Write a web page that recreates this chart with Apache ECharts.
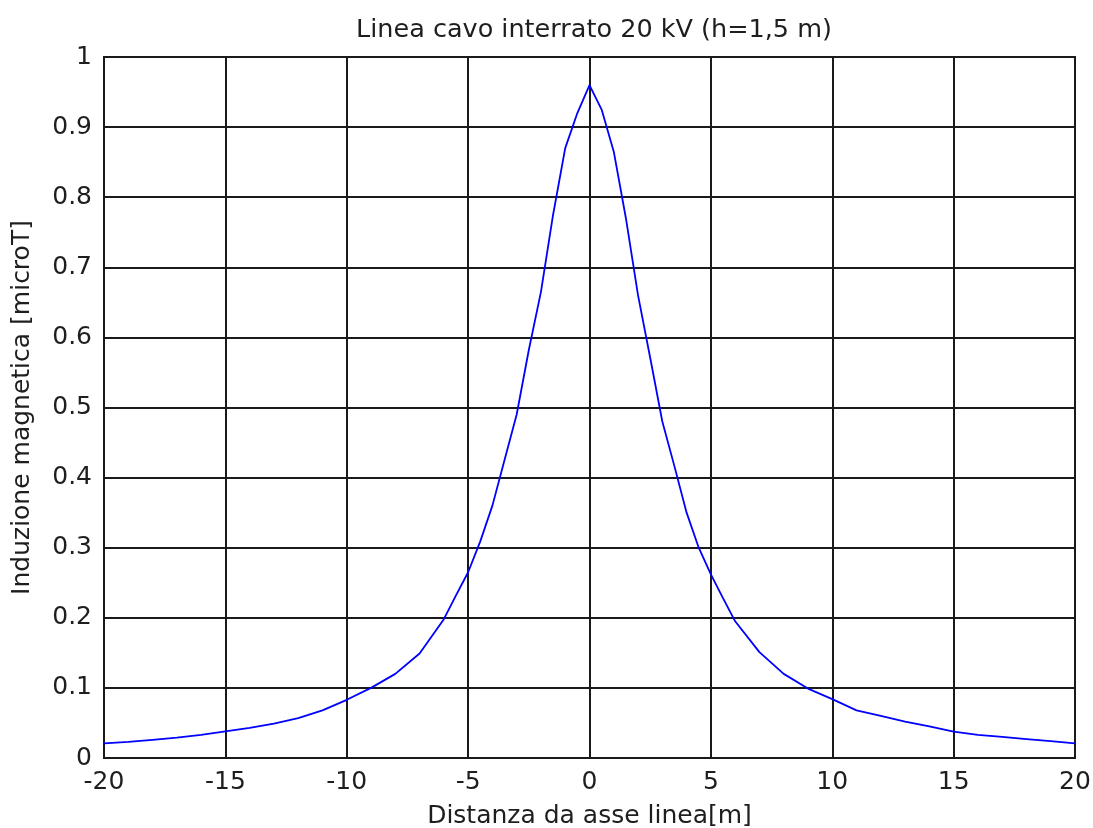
<!DOCTYPE html>
<html>
<head>
<meta charset="utf-8">
<script src="https://cdn.jsdelivr.net/npm/echarts@6/dist/echarts.min.js"></script>
<style>html,body{margin:0;padding:0;background:#fff;}#c{width:1093px;height:828px;}</style>
</head>
<body>
<div id="c"></div>
<script>
const titleText = "Linea cavo interrato 20 kV (h=1,5 m)";
const xName = "Distanza da asse linea[m]";
const yName = "Induzione magnetica [microT]";
const distances = [-20,-19,-18,-17,-16,-15,-14,-13,-12,-11,-10,-9,-8,-7,-6,-5.5,-5,-4.5,-4,-3.5,-3,-2.5,-2,-1.5,-1,-0.5,0,0.5,1,1.5,2,2.5,3,3.5,4,4.5,5,5.5,6,7,8,9,10,11,12,13,14,15,16,17,18,19,20];
const induction = [0.021,0.023,0.026,0.029,0.033,0.038,0.043,0.049,0.057,0.068,0.083,0.100,0.120,0.149,0.198,0.232,0.265,0.309,0.360,0.425,0.490,0.582,0.665,0.775,0.870,0.920,0.960,0.925,0.865,0.770,0.660,0.571,0.480,0.416,0.350,0.300,0.262,0.228,0.195,0.151,0.120,0.099,0.084,0.068,0.060,0.052,0.045,0.0375,0.033,0.030,0.027,0.024,0.021];

const font = "'DejaVu Sans', 'Liberation Sans', sans-serif";
const textColor = '#1e1e1e';
const fs = 25;
const gridLine = { show: true, lineStyle: { color: '#1a1a1a', width: 2 } };
const chart = echarts.init(document.getElementById('c'), null, { renderer: 'canvas' });
chart.setOption({
  animation: false,
  backgroundColor: '#ffffff',
  title: {
    text: titleText, left: 589, top: 12, textAlign: 'center',
    textStyle: { fontFamily: font, fontSize: 25.5, fontWeight: 'normal', color: textColor }
  },
  grid: { left: 104, right: 18, top: 57, bottom: 70, containLabel: false, outerBoundsMode: 'none', show: true, borderColor: '#1a1a1a', borderWidth: 2, backgroundColor: 'transparent' },
  xAxis: {
    type: 'value', min: -20, max: 20, interval: 5,
    name: xName, nameLocation: 'middle', nameGap: 46,
    nameTextStyle: { fontFamily: font, fontSize: fs, color: textColor },
    axisLine: { show: true, lineStyle: { color: '#1a1a1a', width: 2 } },
    axisTick: { show: false },
    axisLabel: { fontFamily: font, fontSize: fs, color: textColor, margin: 12 },
    splitLine: gridLine
  },
  yAxis: {
    type: 'value', min: 0, max: 1, interval: 0.1,
    name: yName, nameLocation: 'middle', nameGap: 69, nameRotate: 90,
    nameTextStyle: { fontFamily: font, fontSize: fs, color: textColor },
    axisLine: { show: true, lineStyle: { color: '#1a1a1a', width: 2 } },
    axisTick: { show: false },
    axisLabel: { fontFamily: font, fontSize: fs, color: textColor, margin: 12 },
    splitLine: gridLine
  },
  series: [{
    type: 'line',
    data: distances.map((d, i) => [d, induction[i]]),
    showSymbol: false,
    smooth: false,
    lineStyle: { color: '#0000ff', width: 1.8 },
    itemStyle: { color: '#0000ff' }
  }]
});
</script>
</body>
</html>
